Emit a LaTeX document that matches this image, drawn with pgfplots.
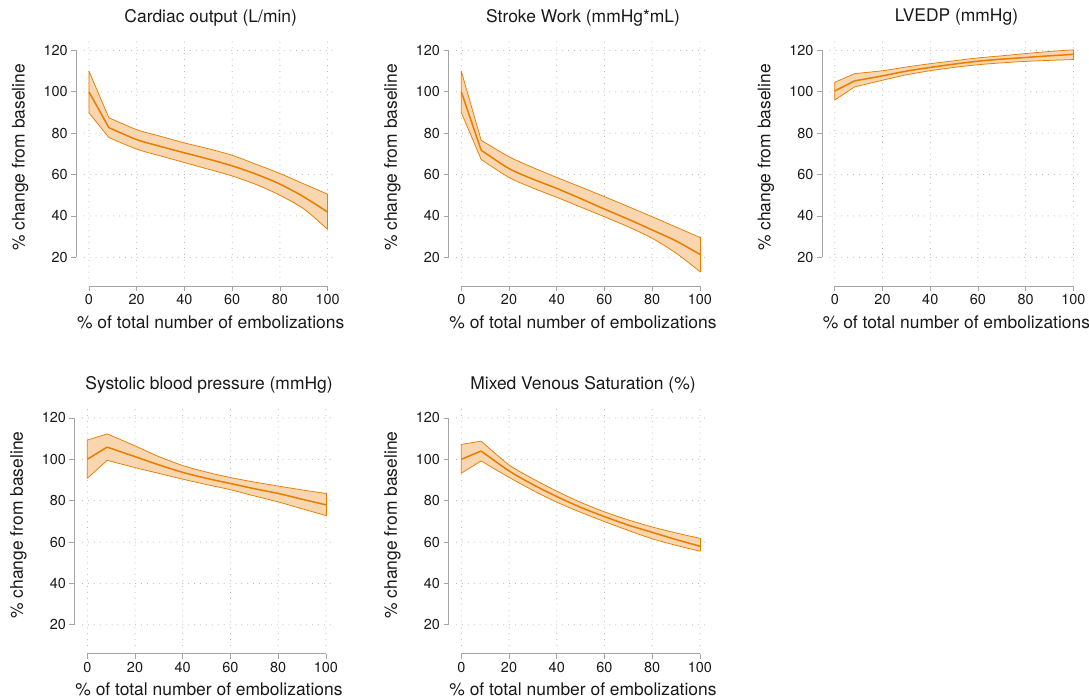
\documentclass[border=0pt]{standalone}
\usepackage{fontspec}
\setmainfont{TeX Gyre Heros}
\usepackage{pgfplots}
\pgfplotsset{compat=1.18}
\definecolor{oc}{RGB}{232,125,0}
\definecolor{bandc}{RGB}{248,214,176}
\definecolor{axisgray}{RGB}{165,165,165}
\definecolor{gridgray}{RGB}{170,170,170}
\definecolor{textc}{RGB}{25,25,25}

\pgfplotsset{
  myax/.style={
    scale only axis, width=253bp, height=241bp,
    anchor=south west,
    xmin=-2, xmax=104, ymin=10, ymax=126.5,
    xtick={0,20,...,100}, ytick={20,40,...,120},
    axis line style={draw=none},
    xtick pos=lower, ytick pos=left,
    tick align=outside, major tick length=5bp,
    xtick style={axisgray, line width=0.8bp, yshift=-8bp},
    ytick style={axisgray, line width=0.8bp, xshift=-8bp},
    xticklabel shift=8bp, yticklabel shift=8bp,
    grid=major, major grid style={gridgray, line width=1bp, line cap=round, dash pattern=on 0bp off 5.9bp},
    tick label style={font=\fontsize{14.5}{16}\selectfont, text=textc},
    /pgf/number format/assume math mode=true,
    title style={at={(axis description cs:0.5,1.056)}, anchor=center, font=\fontsize{17.5}{20}\selectfont, text=textc},
    xlabel style={at={(axis description cs:0.5,-0.1826)}, anchor=center, font=\fontsize{17.5}{20}\selectfont, text=textc},
    ylabel style={at={(axis description cs:-0.253,0.5)}, anchor=center, font=\fontsize{17.5}{20}\selectfont, text=textc},
    xlabel={\% of total number of embolizations},
    ylabel={\% change from baseline},
    clip=false,
  },
  fillsty/.style={fill=bandc, draw=none},
  edge/.style={draw=oc, line width=0.75bp, line join=round},
  meansty/.style={draw=oc, line width=1.5bp, line join=round},
}

\newcommand{\axlines}{%
  \draw[axisgray, line width=0.8bp] ([yshift=-8bp]axis cs:0,10) -- ([yshift=-8bp]axis cs:100,10);
  \draw[axisgray, line width=0.8bp] ([xshift=-8bp]axis cs:-2,20) -- ([xshift=-8bp]axis cs:-2,120);
}

\begin{document}
\begin{tikzpicture}
\path[use as bounding box] (0,0) rectangle (1089bp,697bp);
% Cardiac output
\begin{axis}[myax, at={(84.2bp,419bp)}, title={Cardiac output (L/min)}]
\addplot[fillsty] coordinates {
(0,110) (8.33,87.5) (20,81.7) (30,78.5) (40,75.3) (50,72.5) (60,69.3) (70,65.0) (80,60.5) (90,55.5) (100,50.5)
(100,33.5) (90,43.4) (80,50.0) (70,55.2) (60,59.3) (50,62.6) (40,65.8) (30,69.0) (20,72.3) (8.33,77.9) (0,89.8)
} -- cycle;
\addplot[edge] coordinates {(8.33,77.9) (0,89.8) (0,110) (8.33,87.5)};
\addplot[edge] coordinates {(100,33.5) (100,50.5)};
\addplot[edge, smooth] coordinates {(8.33,87.5) (20,81.7) (30,78.5) (40,75.3) (50,72.5) (60,69.3) (70,65.0) (80,60.5) (90,55.5) (100,50.5)};
\addplot[edge, smooth] coordinates {(8.33,77.9) (20,72.3) (30,69.0) (40,65.8) (50,62.6) (60,59.3) (70,55.2) (80,50.0) (90,43.4) (100,33.5)};
\addplot[meansty] coordinates {(0,100) (8.33,82.7)};
\addplot[meansty, smooth] coordinates {(8.33,82.7) (20,76.9) (30,73.6) (40,70.5) (50,67.5) (60,64.2) (70,60.2) (80,55.4) (90,49.2) (100,41.9)};
\axlines
\end{axis}
% Stroke work
\begin{axis}[myax, at={(456.5bp,419bp)}, title={Stroke Work (mmHg*mL)}]
\addplot[fillsty] coordinates {
(0,110) (8.33,76.6) (20,68.6) (30,63.4) (40,58.6) (50,54.0) (60,49.3) (70,44.5) (80,39.6) (90,34.6) (100,29.6)
(100,13.1) (90,22.0) (80,29.2) (70,34.7) (60,39.6) (50,44.3) (40,49.0) (30,53.5) (20,58.6) (8.33,67.3) (0,90)
} -- cycle;
\addplot[edge] coordinates {(8.33,67.3) (0,90) (0,110) (8.33,76.6)};
\addplot[edge] coordinates {(100,13.1) (100,29.6)};
\addplot[edge, smooth] coordinates {(8.33,76.6) (20,68.6) (30,63.4) (40,58.6) (50,54.0) (60,49.3) (70,44.5) (80,39.6) (90,34.6) (100,29.6)};
\addplot[edge, smooth] coordinates {(8.33,67.3) (20,58.6) (30,53.5) (40,49.0) (50,44.3) (60,39.6) (70,34.7) (80,29.2) (90,22.0) (100,13.1)};
\addplot[meansty] coordinates {(0,100) (8.33,71.8)};
\addplot[meansty, smooth] coordinates {(8.33,71.8) (20,62.9) (30,57.8) (40,53.3) (50,48.4) (60,43.3) (70,38.4) (80,33.2) (90,27.9) (100,21.4)};
\axlines
\end{axis}
% LVEDP
\begin{axis}[myax, at={(830bp,419bp)}, title={LVEDP (mmHg)}]
\addplot[fillsty] coordinates {
(0,104.6) (8.33,108.8) (20,110.2) (30,112.0) (40,113.6) (50,115.0) (60,116.4) (70,117.4) (80,118.5) (90,119.5) (100,120.3)
(100,115.6) (90,115.2) (80,114.7) (70,114.0) (60,113.1) (50,111.8) (40,110.2) (30,108.2) (20,105.6) (8.33,102.4) (0,96)
} -- cycle;
\addplot[edge] coordinates {(8.33,102.4) (0,96) (0,104.6) (8.33,108.8)};
\addplot[edge] coordinates {(100,115.6) (100,120.3)};
\addplot[edge, smooth] coordinates {(8.33,108.8) (20,110.2) (30,112.0) (40,113.6) (50,115.0) (60,116.4) (70,117.4) (80,118.5) (90,119.5) (100,120.3)};
\addplot[edge, smooth] coordinates {(8.33,102.4) (20,105.6) (30,108.2) (40,110.2) (50,111.8) (60,113.1) (70,114.0) (80,114.7) (90,115.2) (100,115.6)};
\addplot[meansty] coordinates {(0,100.4) (8.33,105.3)};
\addplot[meansty, smooth] coordinates {(8.33,105.3) (20,107.7) (30,110.0) (40,111.8) (50,113.4) (60,114.8) (70,115.8) (80,116.6) (90,117.4) (100,118.1)};
\axlines
\end{axis}
% Systolic
\begin{axis}[myax, at={(82.5bp,51.5bp)}, title={Systolic blood pressure (mmHg)}]
\addplot[fillsty] coordinates {
(0,109.3) (8.33,112.3) (20,106.5) (30,101.3) (40,97.0) (50,93.8) (60,91.2) (70,89.0) (80,87.1) (90,85.2) (100,83.5)
(100,72.8) (90,76.1) (80,79.4) (70,82.3) (60,85.3) (50,87.8) (40,90.4) (30,93.2) (20,96.0) (8.33,99.5) (0,90.8)
} -- cycle;
\addplot[edge] coordinates {(8.33,99.5) (0,90.8) (0,109.3) (8.33,112.3)};
\addplot[edge] coordinates {(100,72.8) (100,83.5)};
\addplot[edge, smooth] coordinates {(8.33,112.3) (20,106.5) (30,101.3) (40,97.0) (50,93.8) (60,91.2) (70,89.0) (80,87.1) (90,85.2) (100,83.5)};
\addplot[edge, smooth] coordinates {(8.33,99.5) (20,96.0) (30,93.2) (40,90.4) (50,87.8) (60,85.3) (70,82.3) (80,79.4) (90,76.1) (100,72.8)};
\addplot[meansty] coordinates {(0,100) (8.33,105.9)};
\addplot[meansty, smooth] coordinates {(8.33,105.9) (20,101.3) (30,97.3) (40,93.7) (50,90.8) (60,88.3) (70,85.8) (80,83.5) (90,80.7) (100,78)};
\axlines
\end{axis}
% Mixed venous
\begin{axis}[myax, at={(456.5bp,51.5bp)}, title={Mixed Venous Saturation (\%)}]
\addplot[fillsty] coordinates {
(0,107.2) (8.33,108.8) (20,97.3) (30,90.6) (40,84.6) (50,79.2) (60,74.6) (70,70.7) (80,67.3) (90,64.4) (100,61.8)
(100,55.6) (90,58.4) (80,61.6) (70,65.6) (60,69.9) (50,74.4) (40,79.3) (30,85.0) (20,91.3) (8.33,99.2) (0,93.3)
} -- cycle;
\addplot[edge] coordinates {(8.33,99.2) (0,93.3) (0,107.2) (8.33,108.8)};
\addplot[edge] coordinates {(100,55.6) (100,61.8)};
\addplot[edge, smooth] coordinates {(8.33,108.8) (20,97.3) (30,90.6) (40,84.6) (50,79.2) (60,74.6) (70,70.7) (80,67.3) (90,64.4) (100,61.8)};
\addplot[edge, smooth] coordinates {(8.33,99.2) (20,91.3) (30,85.0) (40,79.3) (50,74.4) (60,69.9) (70,65.6) (80,61.6) (90,58.4) (100,55.6)};
\addplot[meansty] coordinates {(0,100) (8.33,104)};
\addplot[meansty, smooth] coordinates {(8.33,104) (20,94.4) (30,87.8) (40,82.0) (50,76.8) (60,72.3) (70,68.2) (80,64.7) (90,61.2) (100,58.0)};
\axlines
\end{axis}
\end{tikzpicture}
\end{document}
